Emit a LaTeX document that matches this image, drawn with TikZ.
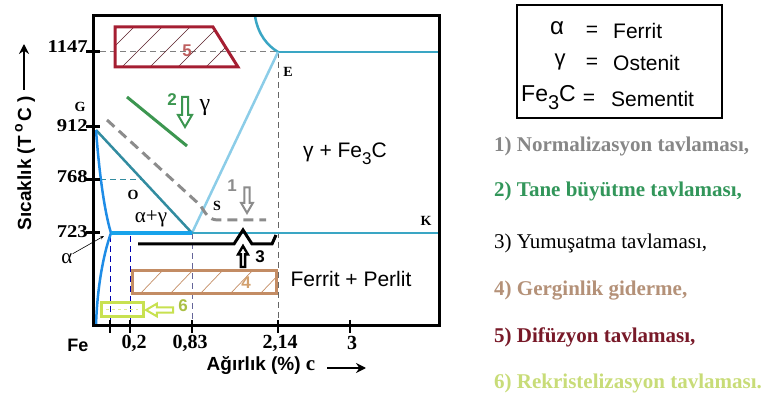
\documentclass[tikz,border=0pt]{standalone}
\usepackage{fontspec}
\setmainfont{Liberation Serif}
\setsansfont{Liberation Sans}
\usetikzlibrary{arrows.meta}
\newcommand\fsz[1]{\fontsize{#1}{#1}\selectfont}
\definecolor{tealA}{RGB}{58,166,196}
\definecolor{tealB}{RGB}{50,140,160}
\definecolor{lblue}{RGB}{140,205,232}
\definecolor{bblue}{RGB}{30,140,230}
\definecolor{redA}{RGB}{165,30,50}
\definecolor{redH}{RGB}{90,30,40}
\definecolor{redL}{RGB}{190,95,95}
\definecolor{greenA}{RGB}{60,150,80}
\definecolor{grayA}{RGB}{140,140,140}
\definecolor{tanA}{RGB}{195,140,100}
\definecolor{tanL}{RGB}{210,160,110}
\definecolor{ygA}{RGB}{200,225,80}
\definecolor{legOne}{RGB}{135,135,135}
\definecolor{legTwo}{RGB}{50,150,90}
\definecolor{legFour}{RGB}{180,145,120}
\definecolor{legFive}{RGB}{120,25,40}
\definecolor{legSix}{RGB}{200,220,120}
\tikzset{
  harrow/.pic={\filldraw[fill=white] (0,0) -- (7,12) -- (3,12) -- (3,30) -- (-3,30) -- (-3,12) -- (-7,12) -- cycle;},
  ticklab/.style={font=\rmfamily\bfseries\fsz{18}, inner sep=0pt},
  xlab/.style={font=\rmfamily\bfseries\fsz{20}, inner sep=0pt},
  ptlab/.style={font=\rmfamily\bfseries\fsz{14}, inner sep=0pt},
  numlab/.style={font=\sffamily\bfseries\fsz{17}, inner sep=0pt},
  legline/.style={font=\rmfamily\bfseries\fsz{21}, anchor=west, inner sep=0pt},
  boxtxt/.style={font=\sffamily\fsz{21}, inner sep=0pt},
  regtxt/.style={font=\sffamily\fsz{21}, inner sep=0pt},
  dashA/.style={dash pattern=on 6pt off 4pt, line width=1},
}
\begin{document}
\begin{tikzpicture}[x=1pt,y=-1pt]
\useasboundingbox (0,0) rectangle (774,403);
% key points
\coordinate (G) at (96,130);
\coordinate (S) at (192,233);
\coordinate (E) at (278,52);
\coordinate (P) at (111,233);
\coordinate (Q) at (96,326);
\coordinate (Etop) at (255,16);
\coordinate (Er) at (439,52);
\coordinate (K) at (439,233);
% dashed guide lines
\draw[dashA, gray] (100,52) -- (E);
\draw[dashA, tealB] (100,180) -- (142,180);
\draw[dashA, blue!70!black] (110,236) -- (110,326);
\draw[dashA, blue!70!black] (130,236) -- (130,326);
\draw[dashA, gray!80!blue] (S) -- (192,326);
\draw[dashA, gray!80!black] (E) -- (278,326);
% phase lines
\draw[tealA, line width=2.5] (Etop) .. controls (258,35) and (268,46) .. (E);
\draw[tealA, line width=2.5] (E) -- (Er);
\draw[lblue, line width=2.5] (E) -- (S);
\draw[tealB, line width=2.5] (G) -- (S);
\draw[bblue, line width=2.5] (G) .. controls (99,170) and (104,210) .. (P);
\draw[bblue, line width=2.5] (P) .. controls (103,255) and (97,290) .. (Q);
\draw[tealA, line width=2.5] (S) -- (K);
\draw[bblue!80!cyan, line width=3.5] (P) -- (S);
% frame
\draw[line width=3] (93,16) rectangle (439,326);
% y ticks
\foreach \yy in {52,127,180,233} \draw[line width=3] (86,\yy) -- (100,\yy);
% x ticks
\foreach \xx in {110,130,192,278,350} \draw[line width=2.5] (\xx,320) -- (\xx,333);
% region 5
\begin{scope}
\clip (115,27) -- (213,27) -- (238,67) -- (115,67) -- cycle;
\foreach \hx in {94,122,150,178,206} \draw[redH, line width=0.7] (\hx,67) -- (\hx+40,27);
\end{scope}
\draw[redA, line width=3] (115,27) -- (213,27) -- (238,67) -- (115,67) -- cycle;
\node[numlab, text=redL] (n5) at (187,51) {5};
% region 2
\draw[greenA, line width=3] (127,97) -- (187,146);
\node[numlab, text=greenA] (n2) at (172,100) {2};
\pic[greenA, line width=2, rotate=180] at (185,127) {harrow};
\node[font=\rmfamily\fsz{24}, inner sep=0pt] (g2) at (205,108) {γ};
% region 1
\draw[grayA, line width=3, dash pattern=on 10pt off 6pt] (107,120) -- (200,205) .. controls (205,212) and (208,220) .. (218,220) -- (266,220);
\node[numlab, text=grayA] (n1) at (232,186) {1};
\pic[grayA, line width=2, rotate=180, scale=0.85] at (247,213) {harrow};
\node[ptlab] (sl) at (217,206) {S};
% region 3
\draw[line width=3] (138,244) -- (234,244) -- (243,230) -- (252,244) -- (272,244) -- (276,235);
\pic[black, line width=2.4, scale=0.7] at (243,246) {harrow};
\node[numlab] (n3) at (260,257) {3};
% region 4
\begin{scope}
\clip (132,271) rectangle (276,294);
\foreach \hx in {140,170,200,230,260} \draw[tanA, line width=0.7] (\hx,294) -- (\hx+22,271);
\end{scope}
\draw[tanA, line width=3] (132,271) rectangle (276,294);
\node[numlab, text=tanL] (n4) at (246,283) {4};
% region 6
\draw[ygA, line width=3] (101,303) rectangle (143,317);
\draw[ygA!60, line width=1, dashed] (106,310) -- (138,310);
\pic[ygA, line width=2, rotate=90, scale=0.9] at (146,310) {harrow};
\node[numlab, text=ygA!85!black] (n6) at (183,306) {6};
% point labels
\node[ptlab] (lG) at (80,107) {G};
\node[ptlab] (lE) at (288,72) {E};
\node[ptlab] (lO) at (133,195) {O};
\node[ptlab] (lK) at (426,221) {K};
\node[font=\rmfamily\fsz{21}, inner sep=0pt] (lag) at (151,219) {α+γ};
\node[font=\rmfamily\fsz{21}, inner sep=0pt] (la) at (67,259) {α};
\coordinate (aend) at (104,236);
\draw[line width=0.6, -{Stealth[length=4,width=3]}] (la.north east) -- (aend);
% region texts
\node[regtxt] (gfe) at (345,154) {γ + Fe\raisebox{-.35em}{\fsz{17}3}C};
\node[regtxt] (fp) at (351,279) {Ferrit + Perlit};
% y tick labels
\node[ticklab, anchor=east] (t1147) at (88,47) {\scalebox{1.15}[1]{1147}};
\node[ticklab, anchor=east] (t912) at (88,126) {\scalebox{1.15}[1]{912}};
\node[ticklab, anchor=east] (t768) at (88,177) {\scalebox{1.15}[1]{768}};
\node[ticklab, anchor=east] (t723) at (88,232) {\scalebox{1.15}[1]{723}};
% x tick labels
\node[font=\sffamily\bfseries\fsz{18}, inner sep=0pt] (xFe) at (78,345) {Fe};
\node[xlab] (x02) at (134,343) {0,2};
\node[xlab] (x083) at (190,343) {0,83};
\node[xlab] (x214) at (280,343) {2,14};
\node[xlab] (x3) at (352,343) {3};
% axis titles
\node[font=\sffamily\bfseries\fsz{19}, inner sep=0pt] (xt) at (261,366) {Ağırlık (\%) {\rmfamily\fsz{21}c}};
\coordinate (xa1) at (327,368);
\coordinate (xa2) at (366,368);
\draw[line width=2.5, -{Stealth[length=10,width=10]}] (xa1) -- (xa2);
\node[font=\sffamily\bfseries\fsz{19}, inner sep=0pt, rotate=90] (yt) at (25,163) {Sıcaklık (T\,\raisebox{.45em}{\fsz{14}o}\,C )};
\coordinate (ya1) at (24,90);
\coordinate (ya2) at (24,44);
\draw[line width=2.5, -{Stealth[length=10,width=10]}] (ya1) -- (ya2);
% legend box
\draw[line width=2.5] (517,5) rectangle (722,118);
\node[boxtxt, font=\sffamily\fsz{24}] (ka) at (557,28) {α};
\node[boxtxt] (ke1) at (592,31) {=};
\node[boxtxt, anchor=west] (kf) at (613,31) {Ferrit};
\node[boxtxt, font=\sffamily\fsz{22}] (kg) at (560,62) {γ};
\node[boxtxt] (ke2) at (592,63) {=};
\node[boxtxt, anchor=west] (ko) at (613,63) {Ostenit};
\node[boxtxt, anchor=west, font=\sffamily\fsz{23}] (kfe) at (521,98) {Fe\raisebox{-.35em}{\fsz{20}3}C};
\node[boxtxt] (ke3) at (589,99) {=};
\node[boxtxt, anchor=west] (ks) at (611,99) {Sementit};
% legend list
\node[legline, text=legOne] (l1) at (494,146) {1) Normalizasyon tavlaması,};
\node[legline, text=legTwo] (l2) at (494,191) {2) Tane büyütme tavlaması,};
\node[legline, font=\rmfamily\fsz{21}] (l3) at (494,243) {3) Yumuşatma tavlaması,};
\node[legline, text=legFour] (l4) at (494,291) {4) Gerginlik giderme,};
\node[legline, text=legFive] (l5) at (494,337) {5) Difüzyon tavlaması,};
\node[legline, text=legSix] (l6) at (494,383) {6) Rekristelizasyon tavlaması.};
\end{tikzpicture}
\end{document}
